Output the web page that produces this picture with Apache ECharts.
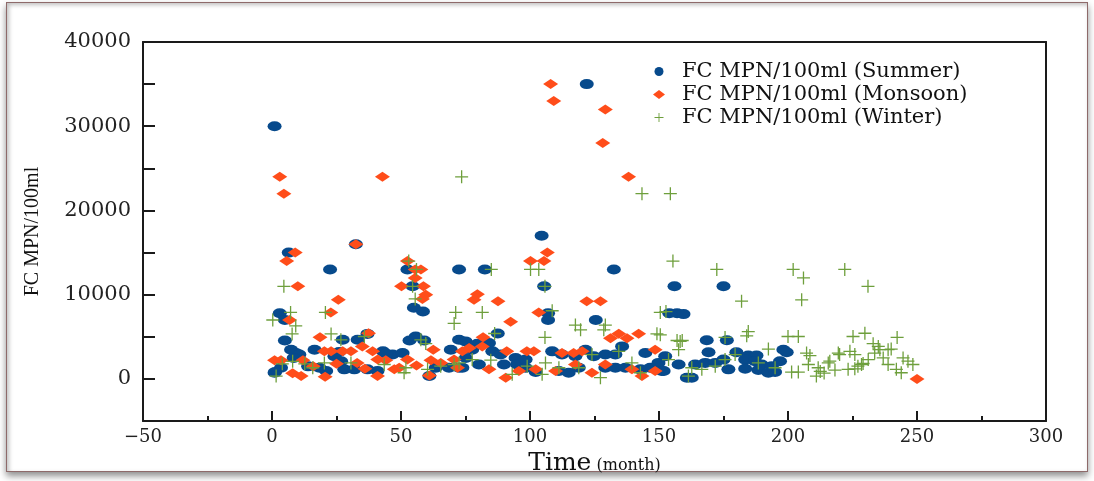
<!DOCTYPE html>
<html>
<head>
<meta charset="utf-8">
<script src="https://cdn.jsdelivr.net/npm/echarts@6/dist/echarts.min.js"></script>
<style>
    html, body { margin: 0; padding: 0; background: #fff; }
    #frame {
        position: absolute; left: 6px; top: 2px; width: 1080px; height: 468px;
        border: 1px solid #8e6a6a; background: #fff;
        box-shadow: 0 4px 7px rgba(0, 0, 0, 0.45), inset 2px 2px 4px rgba(0, 0, 0, 0.25);
    }
    #chart { position: absolute; left: 0; top: 0; width: 1094px; height: 481px; }
</style>
</head>
<body>
<div id="frame"></div>
<div id="chart"></div>
<script>
// FC counts per season, [month, FC MPN/100ml]
var summer = [
    [1, 30000], [122, 35000], [104.5, 17000], [32.5, 16000], [6.5, 15000], [22.5, 13000],
    [52.5, 13000], [72.5, 13000], [82.5, 13000], [132.5, 13000], [105.5, 11000], [54.5, 11000],
    [156, 11000], [175, 11000], [55, 8450], [58.5, 8000], [3, 7800], [5, 7000], [107, 7800],
    [107, 7000], [125.5, 7000], [154, 7800], [157, 7800], [159.5, 7700],
    [5, 4570], [7.4, 3480], [9.3, 3080], [10.6, 2900], [16.5, 3480], [26, 3200], [27.4, 4650],
    [33.2, 4650], [37, 5350], [43, 3280], [46.7, 2900], [50.6, 3080], [53.3, 4570], [55.7, 5040],
    [59, 4570], [69.3, 3480], [72.5, 4650], [75, 4460], [79.6, 4190], [84.1, 4260], [87.5, 5400],
    [135.7, 3870], [168.5, 4600], [176.3, 4600], [169.2, 3170], [180, 3170], [184.6, 2780],
    [187.8, 2780], [198.2, 3480], [199.5, 3170],
    [1, 740], [3.5, 1330], [1.2, 820], [8.4, 2500], [14, 1500], [18.4, 1330], [21, 940], [24.2, 2700],
    [26.8, 2110], [28, 1140], [31.9, 1140], [37, 1140], [40.9, 940], [44.2, 3000], [61, 350],
    [63.5, 1330], [68.6, 1330], [72.5, 1330], [73.8, 1330], [75.1, 2500], [77.6, 3480], [80.2, 1720],
    [85.4, 3280], [88.6, 2900], [89.9, 1720], [94.4, 2500], [95, 1720], [98.3, 2300], [98.3, 1330],
    [102.2, 820], [108.6, 3280], [111.2, 940], [112.4, 2900], [115, 740], [117.6, 2700],
    [118.9, 1330], [121.5, 3480], [124.7, 2700], [129.2, 2900], [129.2, 1330], [133.1, 2900],
    [133.1, 1330], [137, 1330], [142.8, 1140], [144.7, 3080], [146.6, 1330], [149.8, 1910],
    [151.1, 940], [151.8, 940], [152.4, 2700], [157.6, 1720], [160.8, 150], [162.7, 150],
    [164, 1720], [167.9, 1910], [171.8, 1910], [175, 2300], [176.9, 1140], [183.4, 2300],
    [183.4, 1210], [187.2, 2110], [188.5, 1060], [189.8, 1720], [192.4, 740], [193.7, 1520],
    [195, 820], [196.9, 2110]
];
var monsoon = [
    [108, 35000], [109.2, 33000], [129.2, 32000], [128.2, 28000], [138.2, 24000], [3, 24000],
    [4.6, 22000], [42.8, 24000], [32.5, 16000], [9, 15000], [106.7, 15000], [5.7, 14000],
    [52.5, 14000], [100.2, 14000], [105.4, 14000], [55.5, 13000], [57.7, 13000], [55.5, 12000],
    [10, 11000], [50.2, 11000], [58.7, 11000], [59.6, 10000], [58.3, 9500], [79.6, 10050],
    [78.3, 9400], [87.6, 9230], [122, 9230], [127.3, 9230], [25.7, 9400], [22.8, 7900], [6.8, 7000],
    [92.5, 6800], [103.4, 7900],
    [18.6, 4960], [37.4, 5430], [35, 3870], [131.2, 4840], [134.4, 5360], [137.6, 4840],
    [142.1, 5360], [148.5, 3480], [62.5, 3480], [81.8, 4960], [20.3, 3280], [22.9, 3280],
    [27.4, 3280], [30.6, 3280], [39, 3280], [91, 3280], [98.8, 3280], [101.5, 3280], [73.8, 3280],
    [76.4, 3670], [81.5, 3870], [112.4, 3080], [116.9, 3080], [120.2, 3280],
    [1, 2230], [3.5, 2230], [8, 670], [11.3, 350], [12, 2230], [16, 1500], [20.6, 270], [25, 1800],
    [33, 1900], [36, 1200], [40.9, 350], [41, 2300], [44.1, 2230], [47.4, 1140], [49.3, 1330],
    [52.5, 2300], [56, 1600], [61, 400], [61.6, 2230], [65.4, 1910], [70.6, 2300], [71.9, 1330],
    [84.1, 1140], [90.6, 150], [95.7, 940], [102.2, 1140], [109.9, 940], [117.6, 1720], [124, 740],
    [129.2, 1720], [139.5, 1140], [143.4, 350], [148.5, 940], [250, 0]
];
var winter = [
    [73.5, 24000], [143.4, 22000], [154.4, 22000], [155.4, 14000], [172.4, 13000], [202, 13000],
    [222, 13000], [206, 12000], [231, 11000], [53, 14000], [56, 13000], [85, 13000], [100.2, 13000],
    [103.4, 13000], [105.8, 11000], [4.6, 11000], [54.5, 11000], [55.5, 9500], [182, 9230],
    [205.3, 9400], [20.7, 7900], [7.2, 7900], [71.2, 7900], [81.5, 7900], [108.6, 8100],
    [150.5, 7900], [152.7, 8000], [0.3, 7000], [9.2, 6300], [70.6, 6600], [117.6, 6400],
    [119.6, 5830], [128.6, 5830], [129.2, 6400], [7.8, 5350], [22.9, 5350], [105.8, 4930],
    [149.2, 5360], [86.3, 5400], [150.5, 5240], [157, 4570], [159, 4570], [158.2, 4460],
    [157.6, 3480], [175.6, 4930], [184.6, 5630], [184, 5120], [200, 5040], [204, 5040],
    [225.2, 5040], [229.8, 5430], [242.3, 4930], [59.6, 4200], [233, 4190], [235, 3870],
    [235.6, 3480], [238.8, 3480], [233.6, 3080], [192.4, 3550], [207.2, 3080], [208.5, 2780],
    [219.5, 3080], [224, 3280], [225.9, 2900], [240, 3550], [26.7, 4650], [35.8, 5040],
    [57.7, 4650], [124, 2900], [134.4, 3280], [179.5, 2900],
    [1.6, 350], [4, 1800], [8, 2100], [12.7, 1800], [15.8, 1330], [20.3, 1910], [30.6, 1910],
    [43.5, 1720], [51.2, 740], [51.9, 1330], [60.3, 1140], [65.4, 1520], [70.6, 1720], [72.5, 1910],
    [77.6, 2300], [84.8, 2230], [93.1, 550], [98.9, 1520], [104.7, 550], [106, 1910], [111.2, 1330],
    [118.9, 1330], [127.3, 150], [139.5, 1910], [142.8, 740], [153.7, 2300], [161.4, 350],
    [162.7, 1330], [166.6, 1140], [171.8, 1520], [175.6, 2300], [188.5, 1910], [195, 1330],
    [201.4, 820], [204, 820], [207.9, 1720], [211, 350], [211.7, 1330], [212.5, 900], [214, 700],
    [215.6, 1910], [216.2, 2110], [218.2, 1060], [220, 2900], [223.3, 1140], [225.9, 1210],
    [227.1, 1520], [228.5, 1720], [229.1, 1840], [231.1, 2300], [236.9, 2500], [238.8, 1720],
    [242, 1140], [243.9, 740], [244.6, 2500], [246.5, 2110], [248.4, 1720]
];
var seriesNames = ['FC MPN/100ml (Summer)', 'FC MPN/100ml (Monsoon)', 'FC MPN/100ml (Winter)'];
var xMin = -50, xMax = 300, yMin = -5000, yMax = 40000;

var plusPath = 'path://M0,5.4H12V6.6H0Z M5.4,0H6.6V12H5.4Z';
var axisColor = '#1a1a1a';

// top and right edges of the box: bare axes with only a line
var frameLine = {show: true, onZero: false, lineStyle: {color: axisColor, width: 2}};

var myChart = echarts.init(document.getElementById('chart'));
myChart.setOption({
    backgroundColor: 'transparent',
    animation: false,
    grid: {left: 143, top: 42, width: 903, height: 384},
    legend: {
        orient: 'vertical',
        left: 648,
        top: 56,
        itemWidth: 12,
        itemHeight: 9,
        itemGap: 2,
        selectedMode: false,
        textStyle: {fontFamily: 'DejaVu Serif', fontSize: 21, color: '#111', padding: [0, 0, 0, 12]},
        data: [
            {name: seriesNames[0], icon: 'circle'},
            {name: seriesNames[1], icon: 'diamond'},
            {name: seriesNames[2], icon: plusPath}
        ]
    },
    xAxis: [{
        type: 'value',
        min: xMin,
        max: xMax,
        interval: 50,
        name: '{a|Time}{b| (month)}',
        nameLocation: 'middle',
        nameGap: 26,
        nameTextStyle: {
            rich: {
                a: {fontFamily: 'DejaVu Serif', fontSize: 25, color: '#111'},
                b: {fontFamily: 'DejaVu Serif', fontSize: 16, color: '#111', padding: [5, 0, 0, 0]}
            }
        },
        axisLine: {show: true, onZero: false, lineStyle: {color: axisColor, width: 2}},
        axisTick: {show: true, inside: true, length: 10, lineStyle: {color: axisColor, width: 2}},
        minorTick: {show: true, splitNumber: 2, length: 5, lineStyle: {color: axisColor, width: 2}},
        axisLabel: {
            fontFamily: 'DejaVu Serif', fontSize: 18, color: '#222', margin: 7,
            formatter: function (v) { return v < 0 ? '\u2212' + (-v) : String(v); }
        },
        splitLine: {show: false}
    }, {
        type: 'value',
        min: xMin,
        max: xMax,
        position: 'top',
        axisLine: frameLine,
        axisTick: {show: false},
        axisLabel: {show: false},
        splitLine: {show: false}
    }],
    yAxis: [{
        // a tick every 5000, labels only on the 10000s
        type: 'value',
        min: yMin,
        max: yMax,
        interval: 5000,
        name: 'FC MPN/100ml',
        nameLocation: 'middle',
        nameGap: 100,
        nameTextStyle: {fontFamily: 'Liberation Serif', fontSize: 20, color: '#111'},
        axisLine: {show: true, onZero: false, lineStyle: {color: axisColor, width: 2}},
        axisTick: {show: true, inside: true, length: 12, lineStyle: {color: axisColor, width: 2}},
        axisLabel: {
            fontFamily: 'DejaVu Serif', fontSize: 21, color: '#222', margin: 12,
            formatter: function (v) { return (v >= 0 && v % 10000 === 0) ? String(v) : ''; }
        },
        splitLine: {show: false}
    }, {
        type: 'value',
        min: yMin,
        max: yMax,
        position: 'right',
        axisLine: frameLine,
        axisTick: {show: false},
        axisLabel: {show: false},
        splitLine: {show: false}
    }],
    series: [{
        name: seriesNames[0],
        type: 'scatter',
        symbol: 'circle',
        symbolSize: [14, 10],
        itemStyle: {color: '#074a8c', opacity: 1},
        data: summer
    }, {
        name: seriesNames[1],
        type: 'scatter',
        symbol: 'diamond',
        symbolSize: [15, 10],
        itemStyle: {color: '#ff4d1a', opacity: 1},
        data: monsoon
    }, {
        name: seriesNames[2],
        type: 'scatter',
        symbol: plusPath,
        symbolSize: 13,
        itemStyle: {color: '#6e9f3c', opacity: 1},
        data: winter
    }]
});
</script>
</body>
</html>
